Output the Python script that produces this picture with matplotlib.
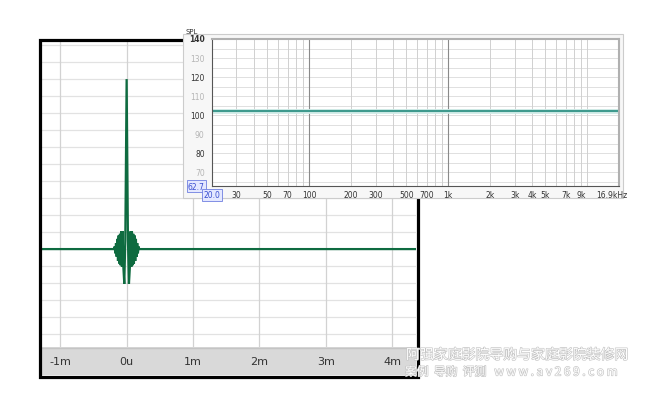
import matplotlib
matplotlib.use("Agg")
import matplotlib.pyplot as plt
import matplotlib.patheffects as pe
from matplotlib.patches import Rectangle
from matplotlib.transforms import blended_transform_factory

W, H = 650, 402

# impulse response (time in ms, amplitude in arbitrary units)
imp_t = [-1.3, -0.19, -0.18, -0.17, -0.16, -0.15, -0.14, -0.13, -0.12, -0.11, -0.10,
         -0.09, -0.08, -0.07, -0.06, -0.05, -0.035, -0.02, 0.0, 0.02, 0.035, 0.05,
         0.06, 0.07, 0.08, 0.09, 0.10, 0.11, 0.12, 0.13, 0.14, 0.15, 0.16, 0.17,
         0.18, 0.19, 4.4]
imp_a = [0, 0, 0.15, -0.25, 0.35, -0.45, 0.6, -0.7, 0.8, -0.85, 0.9,
         -0.95, 1.05, -1.05, 1.05, -1.0, -2.05, 0.5, 10.0, 0.5, -2.05, -1.0,
         1.05, -1.05, 1.05, -0.95, 0.9, -0.85, 0.8, -0.7, 0.6, -0.45, 0.35, -0.25,
         0.15, 0, 0]
time_ticks = [-1, 0, 1, 2, 3, 4]
time_labels = ["-1m", "0u", "1m", "2m", "3m", "4m"]

# frequency response inset
freq = [20, 100, 1000, 10000, 16900]
spl = [102, 102, 102, 102, 102]
spl_major = [140, 120, 100, 80]
spl_minor = [130, 110, 90, 70]
f_ticks = [30, 50, 70, 100, 200, 300, 500, 700, 1000, 2000, 3000, 4000, 5000, 7000, 9000]
f_labels = ["30", "50", "70", "100", "200", "300", "500", "700", "1k", "2k", "3k", "4k", "5k", "7k", "9k"]
f_grid = [30, 40, 50, 60, 70, 80, 90, 200, 300, 400, 500, 600, 700, 800, 900,
          2000, 3000, 4000, 5000, 6000, 7000, 8000, 9000, 10000]
f_decades = [100, 1000]


def rect(x0, y0, x1, y1):
    return [x0 / W, 1 - y1 / H, (x1 - x0) / W, (y1 - y0) / H]


fig = plt.figure(figsize=(W / 100, H / 100), dpi=100)
fig.patch.set_facecolor("white")

# main impulse panel
ax = fig.add_axes(rect(41, 42, 416, 348), zorder=1)
ax.plot(imp_t, imp_a, color="#0e6b40", lw=1.6, solid_joinstyle="miter")
ax.set_xlim(-1.29, 4.36)
ax.set_ylim(-5.76, 12.24)
for y in range(-5, 13):
    ax.axhline(y, color="#e2e2e2", lw=0.9, zorder=0)
for x in time_ticks:
    ax.axvline(x, color="#d2d2d2", lw=0.9, zorder=0)
ax.set_xticks([])
ax.set_yticks([])
for s in ax.spines.values():
    s.set_visible(False)

# gray tick strip below
strip = fig.add_axes(rect(41, 348, 416, 376), zorder=1)
strip.set_facecolor("#d9d9d9")
strip.set_xlim(ax.get_xlim())
strip.set_xticks([])
strip.set_yticks([])
for s in strip.spines.values():
    s.set_visible(False)
strip.axhline(0.97, color="#c4c4c4", lw=1)
tr = blended_transform_factory(strip.transData, strip.transAxes)
for x, lab in zip(time_ticks, time_labels):
    strip.text(x, 0.5, lab, transform=tr, ha="center", va="center",
               fontsize=8, color="#333333")

# thick black frame
fig.patches.append(Rectangle((39.5 / W, 1 - 377.5 / H), 378 / W, 337 / H,
                             transform=fig.transFigure, fill=False,
                             ec="black", lw=2.3, zorder=2))

# inset background
fig.patches.append(Rectangle((183 / W, 1 - 199 / H), 440 / W, 164 / H,
                             transform=fig.transFigure, fc="#f7f7f7",
                             ec="#cccccc", lw=0.8, zorder=4))

ins = fig.add_axes(rect(212, 40, 619, 187), zorder=5)
ins.set_facecolor("white")
ins.set_xscale("log")
ins.set_xlim(20, 16900)
ins.set_ylim(62.7, 140)
for y in range(65, 140, 5):
    ins.axhline(y, color="#dadada", lw=0.6, zorder=0)
for f in f_grid:
    ins.axvline(f, color="#d0d0d0", lw=0.7, zorder=0)
for f in f_decades:
    ins.axvline(f, color="#8a8a8a", lw=0.8, zorder=0)
ins.plot(freq, spl, color="#d2ece8", lw=3.5, solid_capstyle="butt")
ins.plot(freq, spl, color="#3f9a8e", lw=1.5, solid_capstyle="butt")
ins.set_xticks([])
ins.set_yticks([])
ins.minorticks_off()
ins.spines["left"].set_color("#555555")
ins.spines["bottom"].set_color("#555555")
ins.spines["top"].set_color("#b0b0b0")
ins.spines["right"].set_color("#b0b0b0")
ins.spines["top"].set_linewidth(1.5)
ins.spines["right"].set_linewidth(1.5)

ytr = blended_transform_factory(ins.transAxes, ins.transData)
for v in spl_major:
    ins.text(-0.018, v, str(v), transform=ytr, ha="right", va="center",
             fontsize=5.5, color="#333333", clip_on=False,
             fontweight="bold" if v == 140 else "normal")
for v in spl_minor:
    ins.text(-0.018, v, str(v), transform=ytr, ha="right", va="center",
             fontsize=5.5, color="#b5b5b5", clip_on=False)
ins.text(-0.018, 62.7, "62.7", transform=ytr, ha="right", va="center",
         fontsize=5.5, color="#3a4fd0", clip_on=False,
         bbox=dict(boxstyle="square,pad=0.15", fc="#e4e8ff", ec="#6f7fe0", lw=0.6))
ins.text(-0.05, 1.035, "SPL", transform=ins.transAxes, ha="center", va="bottom",
         fontsize=5, color="#333333", clip_on=False)

xtr = blended_transform_factory(ins.transData, ins.transAxes)
for f, lab in zip(f_ticks, f_labels):
    ins.text(f, -0.03, lab, transform=xtr, ha="center", va="top",
             fontsize=5.5, color="#333333", clip_on=False)
ins.text(20, -0.03, "20.0", transform=xtr, ha="center", va="top",
         fontsize=5.5, color="#3a4fd0", clip_on=False,
         bbox=dict(boxstyle="square,pad=0.15", fc="#e4e8ff", ec="#6f7fe0", lw=0.6))
ins.text(1.02, -0.03, "16.9kHz", transform=ins.transAxes, ha="right", va="top",
         fontsize=5.5, color="#333333", clip_on=False)

# watermark
wm = [pe.withStroke(linewidth=0.9, foreground="#c4c4c4")]
fig.text(517 / W, 1 - 356 / H, "阿强家庭影院导购与家庭影院装修网", ha="center", va="center",
         fontsize=10, color="white", family=["Noto Sans CJK SC", "DejaVu Sans"],
         path_effects=wm, zorder=10)
fig.text(405 / W, 1 - 373 / H, "案例  导购  评测   w w w . a v 2 6 9 . c o m", ha="left",
         va="center", fontsize=8.5, color="white",
         family=["Noto Sans CJK SC", "DejaVu Sans"], path_effects=wm, zorder=10)

fig.savefig("out.png", dpi=100, facecolor="white")
